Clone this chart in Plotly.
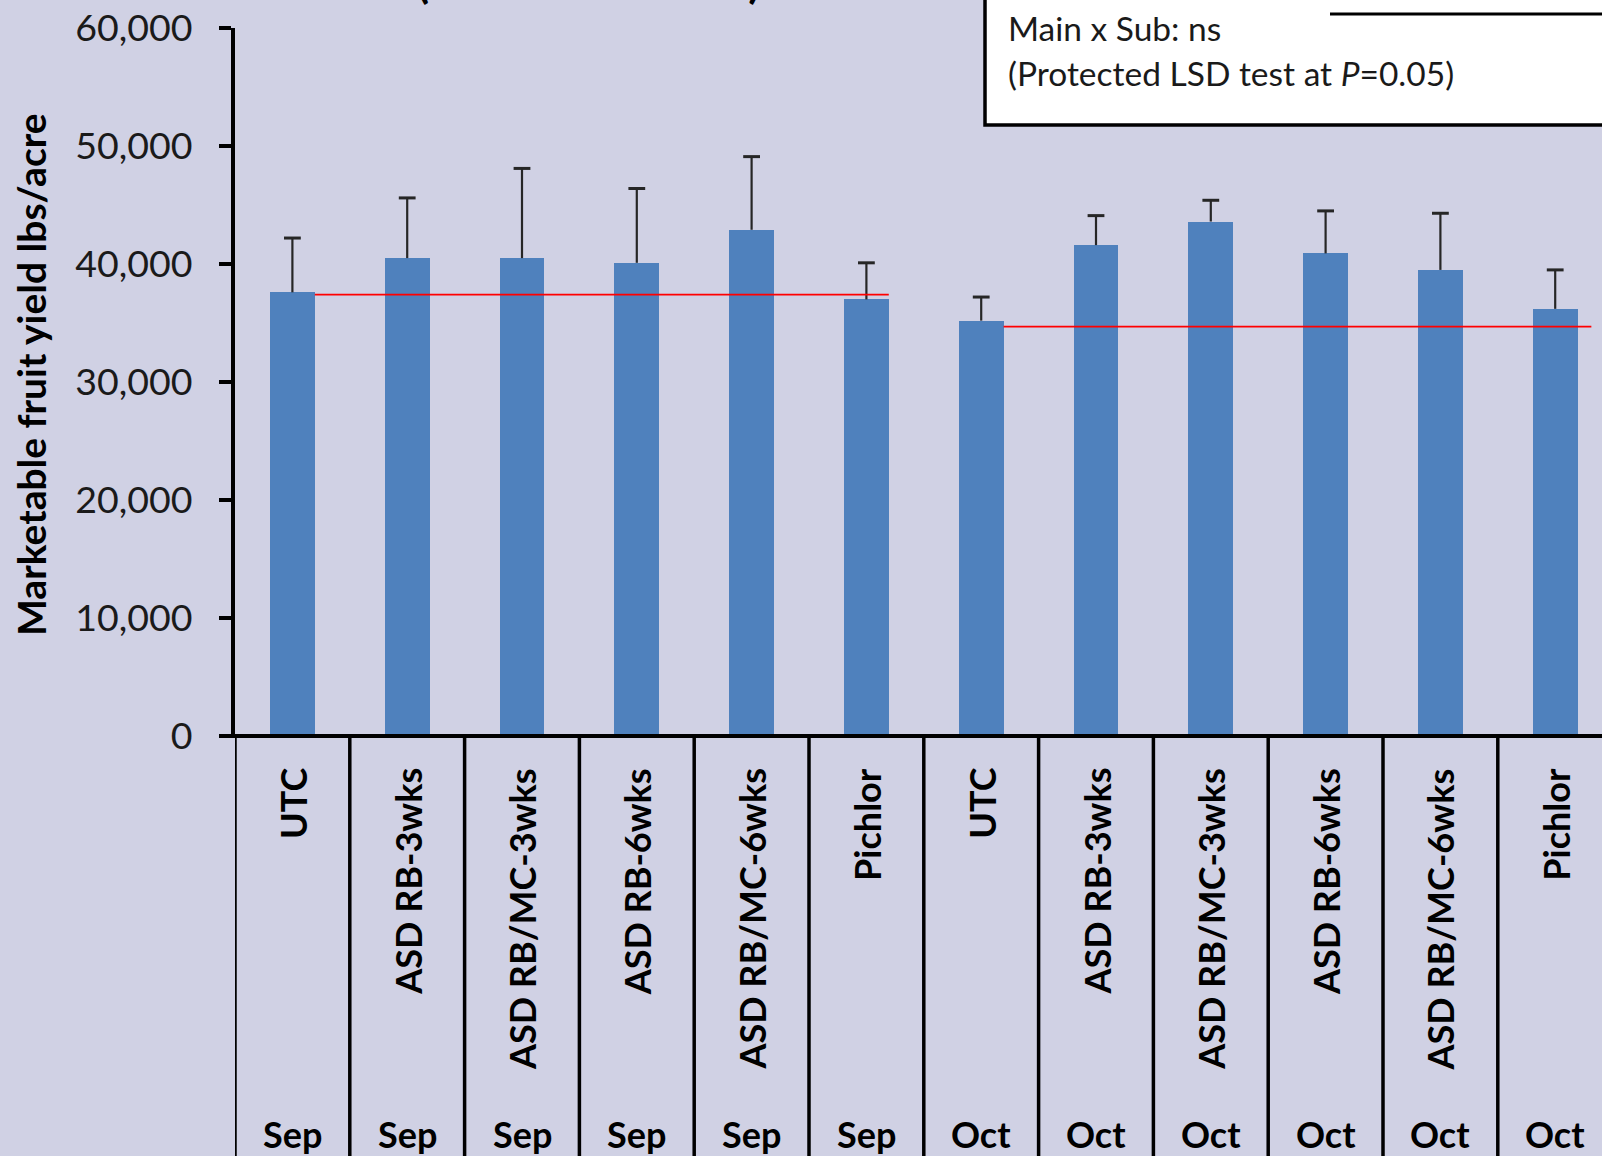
import plotly.graph_objects as go

# Marketable fruit yield by treatment and application month
treatments = ["UTC", "ASD RB-3wks", "ASD RB/MC-3wks", "ASD RB-6wks", "ASD RB/MC-6wks", "Pichlor"]
months = ["Sep", "Oct"]

sep_yield = [37600, 40500, 40500, 40100, 42900, 37000]
sep_err = [4600, 5100, 7600, 6300, 6200, 3100]
oct_yield = [35200, 41600, 43600, 40900, 39500, 36200]
oct_err = [2000, 2500, 1800, 3600, 4800, 3300]

# reference line per month (lbs/acre)
month_ref = [37400, 34700]

y_ticks = [0, 10000, 20000, 30000, 40000, 50000, 60000]

title_text = "(Castroville 2011)"
note_lines = ["Main x Sub: ns", "(Protected LSD test at <i>P</i>=0.05)"]

# ---- layout geometry (pixels) ----
W, H = 1602, 1156
L, R, T, B = 235, 0, 28, 420
plot_w = W - L - R
plot_h = H - T - B
cat_px = 114.8
x_end = -0.5 + plot_w / cat_px
bar_w = 0.39

FONT = "Lato"
BG = "#D0D1E4"
BAR = "#4F81BD"
ERR = "#262626"


def px_x(p):
    return (p - L) / plot_w


def px_y(p):
    return (H - B - p) / plot_h


labels = [f"{t}|{m}" for m in months for t in treatments]
xs = list(range(len(labels)))
yields = sep_yield + oct_yield
errs = sep_err + oct_err

fig = go.Figure()
fig.add_trace(go.Bar(
    x=xs, y=yields, width=bar_w,
    marker=dict(color=BAR, line=dict(width=0)),
    hoverinfo="skip", showlegend=False,
))

# upper error bars: stems from bar top plus a cap
stem_x, stem_y = [], []
for x, y, e in zip(xs, yields, errs):
    stem_x += [x, x, None]
    stem_y += [y, y + e, None]
fig.add_trace(go.Scatter(
    x=stem_x, y=stem_y, mode="lines", line=dict(color=ERR, width=2.2),
    hoverinfo="skip", showlegend=False,
))
fig.add_trace(go.Scatter(
    x=xs, y=[y + e for y, e in zip(yields, errs)], mode="markers",
    marker=dict(symbol="line-ew", size=12, line=dict(color=ERR, width=3)),
    hoverinfo="skip", showlegend=False,
))

# reference lines, one per month group
n = len(treatments)
for k, m in enumerate(months):
    x0 = k * n + bar_w / 2
    x1 = (k + 1) * n - 1 + bar_w / 2 + (0.12 if k == len(months) - 1 else 0)
    fig.add_trace(go.Scatter(
        x=[x0, x1], y=[month_ref[k], month_ref[k]], mode="lines",
        line=dict(color="#FF0000", width=1.8), hoverinfo="skip", showlegend=False,
    ))

shapes = []
# category divider lines under the axis
for i in range(len(labels)):
    shapes.append(dict(type="line", xref="x", yref="paper", x0=i - 0.5, x1=i - 0.5,
                       y0=0, y1=-1.0, line=dict(color="black", width=3.5)))
# horizontal category axis line
shapes.append(dict(type="line", xref="paper", yref="paper", x0=px_x(221), x1=1.02,
                   y0=0, y1=0, line=dict(color="black", width=4)))
# statistics note box
shapes.append(dict(type="rect", xref="paper", yref="paper", x0=px_x(985), x1=1.05,
                   y0=px_y(125), y1=px_y(-20), fillcolor="white",
                   line=dict(color="black", width=3.5), layer="above"))
shapes.append(dict(type="line", xref="paper", yref="paper", x0=px_x(1330), x1=1.05,
                   y0=px_y(14), y1=px_y(14), line=dict(color="black", width=3), layer="above"))

annotations = []
for i, lab in enumerate(labels):
    t, m = lab.split("|")
    annotations.append(dict(x=i, xref="x", y=0, yref="paper", yshift=-30,
                            text=f"<b>{t}</b>", textangle=-90, showarrow=False,
                            xanchor="center", yanchor="top",
                            font=dict(family=FONT, size=36, color="black")))
    annotations.append(dict(x=i, xref="x", y=0, yref="paper", yshift=-(1134 - (H - B)),
                            text=f"<b>{m}</b>", showarrow=False,
                            xanchor="center", yanchor="middle",
                            font=dict(family=FONT, size=36, color="black")))

annotations.append(dict(x=px_x(31), xref="paper", y=px_y(374), yref="paper",
                        text="<b>Marketable fruit yield lbs/acre</b>", textangle=-90,
                        showarrow=False, xanchor="center", yanchor="middle",
                        font=dict(family=FONT, size=39, color="black")))
annotations.append(dict(x=px_x(588), xref="paper", y=px_y(9), yref="paper",
                        text=f"<b>{title_text}</b>", showarrow=False,
                        xanchor="center", yanchor="bottom",
                        font=dict(family=FONT, size=44, color="black")))
for j, line in enumerate(note_lines):
    annotations.append(dict(x=px_x(1006), xref="paper", y=px_y(28 + 45 * j), yref="paper",
                            text=line, showarrow=False, xanchor="left", yanchor="middle",
                            font=dict(family=FONT, size=33.5, color="#1a1a1a")))

fig.update_layout(
    width=W, height=H,
    margin=dict(l=L, r=R, t=T, b=B, pad=0),
    paper_bgcolor=BG, plot_bgcolor=BG,
    bargap=0, shapes=shapes, annotations=annotations,
    xaxis=dict(range=[-0.5, x_end], showticklabels=False, showgrid=False,
               zeroline=False, showline=False, ticks=""),
    yaxis=dict(range=[0, 60000], tickvals=y_ticks, tickformat=",d",
               showgrid=False, zeroline=False, showline=True, linecolor="black",
               linewidth=4, ticks="outside", ticklen=12, tickwidth=3.5, tickcolor="black",
               ticklabelstandoff=19,
               tickfont=dict(family=FONT, size=37.5, color="#1a1a1a")),
)

fig.write_html("out.html")
